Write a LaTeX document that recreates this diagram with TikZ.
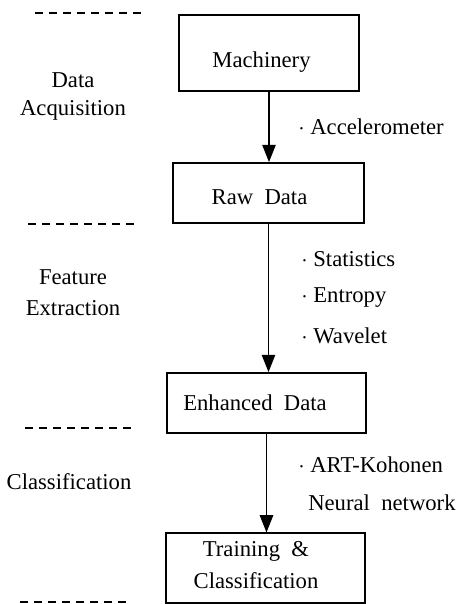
\documentclass[tikz,border=0pt]{standalone}
\usepackage{fontspec}
\setmainfont{Liberation Serif}
\usetikzlibrary{arrows.meta}

\begin{document}
\begin{tikzpicture}[x=0.75pt,y=-0.75pt,line width=1.3pt,
	every node/.style={font=\fontsize{17}{21}\selectfont},
	blk/.style={draw,minimum width=#1,inner sep=0pt},
	sep/.style={line width=1pt,dash pattern=on 6pt off 4.5pt},
	arr/.style={-{Triangle[length=13pt,width=10pt]}}]
		\useasboundingbox (0,0) rectangle (463,604);
		\draw[sep] (35,13) -- (147,13);
		\draw[sep] (28,224) -- (140,224);
		\draw[sep] (25,428) -- (137,428);
		\draw[sep] (20,602) -- (130,602);
		% boxes
		\node[blk=135pt,minimum height=57pt] (mach) at (269,53) {};
		\node[blk=143pt,minimum height=45pt] (raw) at (268.5,193) {};
		\node[blk=149pt,minimum height=45pt] (enh) at (266.5,403) {};
		\node[blk=149pt,minimum height=52pt] (train) at (265.5,568) {};
		\node[anchor=base] (machtxt) at (261.5,67) {Machinery};
		\node[anchor=base] (rawtxt) at (259.5,204) {Raw\ \ Data};
		\node[anchor=base] (enhtxt) at (255,410) {Enhanced\ \ Data};
		\node[anchor=base,align=center,font=\fontsize{17}{24}\selectfont] (traintxt) at (256,588) {Training\ \ \&\\Classification};
		\draw[arr] (mach.south) -- (mach.south |- raw.north);
		\draw[arr] (raw.south) -- (raw.south |- enh.north);
		\draw[arr] (enh.south) -- (enh.south |- train.north);
		% stages
		\node[align=center] (acq) at (73,96) {Data\\Acquisition};
		\node[align=center,font=\fontsize{17}{23}\selectfont] (feat) at (73,293) {Feature\\Extraction};
		\node (cls) at (69,482) {Classification};
		% methods
		\node[anchor=west] (acc) at (293,127) {$\cdot$ Accelerometer};
		\node[anchor=west] (stat) at (296,259) {$\cdot$ Statistics};
		\node[anchor=west] (ent) at (296,298) {$\cdot$ Entropy};
		\node[anchor=west] (wav) at (296,336) {$\cdot$ Wavelet};
		\node[anchor=west] (art) at (293,465) {$\cdot$ ART-Kohonen};
		\node[anchor=west] (nn) at (303,503) {Neural\ \ network};
\end{tikzpicture}
\end{document}
